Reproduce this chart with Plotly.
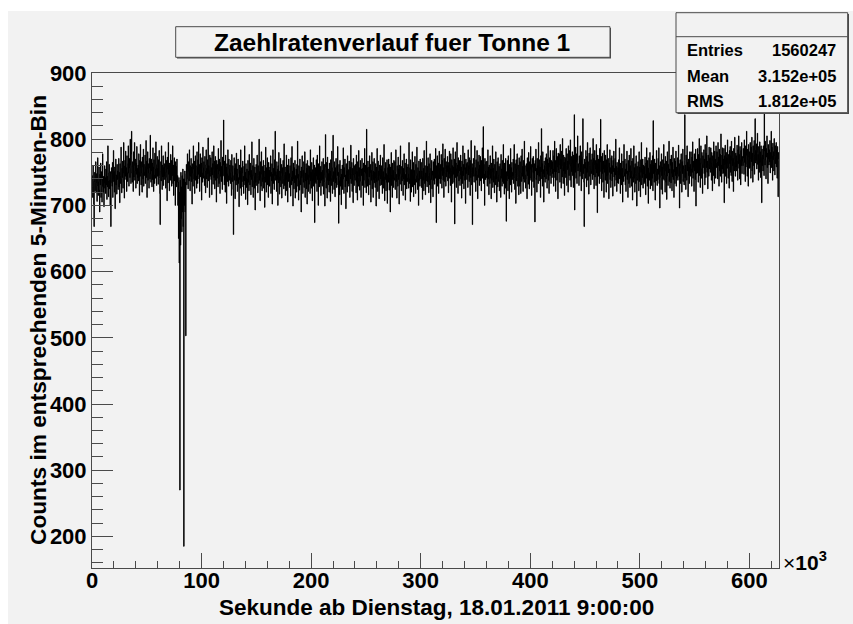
import plotly.graph_objects as go

# ---------------------------------------------------------------------------
# Counts per 5-minute bin (300 s), 20 bins = 6 ks per row
# ---------------------------------------------------------------------------
BIN_WIDTH_S = 300
X_MAX_KS = 627
Y_RANGE = [152.3, 900]

COUNTS = [
    # 0 - 30 ks
    745, 728, 712, 760, 738, 702, 668, 735, 750, 722, 741, 766, 719, 733, 748, 706, 729, 772, 740, 715,
    736, 758, 724, 690, 747, 731, 764, 712, 739, 751, 705, 728, 778, 737, 720, 744, 698, 733, 760, 726,
    742, 718, 755, 731, 766, 709, 744, 728, 790, 737, 713, 749, 762, 725, 738, 700, 751, 668, 734, 757,
    748, 729, 765, 712, 740, 783, 736, 751, 720, 758, 695, 744, 770, 731, 746, 717, 762, 739, 752, 724,
    739, 771, 728, 750, 704, 763, 745, 733, 788, 741, 719, 756, 742, 767, 726, 748, 795, 735, 711, 760,
    # 30 - 60 ks
    768, 744, 782, 739, 757, 721, 775, 750, 736, 763, 790, 748, 729, 771, 756, 742, 800, 760, 733, 777,
    812, 749, 735, 766, 758, 721, 781, 743, 760, 795, 738, 752, 770, 726, 764, 747, 789, 733, 756, 742,
    761, 737, 778, 750, 715, 768, 744, 792, 757, 731, 766, 749, 720, 773, 758, 740, 785, 729, 762, 751,
    745, 776, 733, 759, 798, 742, 767, 712, 754, 781, 738, 763, 749, 726, 771, 756, 740, 806, 747, 735,
    770, 752, 728, 764, 739, 787, 758, 721, 769, 746, 733, 779, 755, 741, 796, 762, 730, 757, 774, 744,
    # 60 - 90 ks (drop of the rate around 80 ks)
    756, 732, 769, 745, 783, 741, 718, 671, 752, 766, 737, 790, 748, 724, 761, 743, 775, 730, 757, 744,
    763, 739, 758, 781, 726, 750, 768, 742, 707, 773, 755, 734, 795, 747, 760, 722, 764, 751, 738, 777,
    742, 768, 729, 756, 745, 790, 733, 761, 715, 748, 772, 737, 754, 700, 766, 741, 759, 728, 770, 735,
    745, 700, 735, 650, 742, 613, 720, 270, 738, 640, 750, 680, 728, 660, 745, 690, 755, 668, 740, 185,
    740, 700, 752, 690, 735, 503, 748, 762, 731, 755, 778, 740, 725, 766, 751, 737, 784, 745, 722, 760,
    # 90 - 120 ks
    744, 771, 736, 758, 702, 763, 748, 729, 790, 755, 740, 767, 718, 752, 775, 738, 760, 745, 726, 781,
    758, 733, 769, 747, 795, 740, 762, 721, 756, 778, 743, 750, 764, 708, 772, 749, 735, 788, 757, 741,
    766, 745, 730, 774, 752, 719, 761, 784, 740, 756, 727, 769, 748, 802, 737, 760, 753, 712, 776, 744,
    750, 772, 739, 757, 716, 781, 746, 763, 732, 755, 790, 742, 767, 725, 751, 774, 738, 760, 705, 768,
    741, 762, 755, 728, 786, 747, 733, 770, 752, 718, 765, 744, 798, 736, 759, 750, 724, 773, 745, 761,
    # 120 - 150 ks
    829, 744, 731, 767, 752, 720, 776, 741, 758, 703, 763, 748, 736, 784, 745, 729, 770, 755, 738, 761,
    749, 733, 768, 742, 715, 777, 751, 736, 760, 724, 656, 745, 772, 738, 756, 710, 763, 747, 731, 779,
    737, 755, 721, 748, 770, 733, 742, 698, 761, 739, 752, 726, 784, 741, 715, 757, 736, 749, 767, 728,
    744, 718, 759, 737, 790, 731, 750, 709, 763, 742, 727, 755, 740, 701, 768, 735, 752, 722, 777, 746,
    731, 764, 742, 716, 753, 739, 796, 728, 747, 760, 712, 738, 771, 744, 726, 758, 693, 749, 735, 762,
    # 150 - 180 ks
    755, 730, 776, 741, 719, 760, 745, 733, 800, 738, 751, 707, 766, 742, 729, 781, 747, 722, 759, 736,
    740, 768, 726, 752, 743, 697, 761, 735, 788, 749, 720, 757, 738, 772, 731, 746, 712, 765, 744, 753,
    729, 758, 744, 775, 718, 750, 737, 763, 702, 748, 784, 733, 756, 741, 724, 769, 745, 812, 738, 751,
    746, 721, 766, 739, 755, 700, 760, 734, 780, 743, 717, 752, 738, 771, 728, 749, 762, 711, 744, 757,
    733, 768, 741, 725, 793, 747, 730, 758, 715, 750, 739, 776, 722, 745, 761, 705, 753, 736, 770, 742,
    # 180 - 210 ks
    748, 727, 760, 738, 714, 772, 743, 731, 789, 737, 752, 699, 764, 740, 725, 757, 734, 768, 711, 745,
    736, 755, 720, 762, 741, 797, 729, 747, 708, 760, 738, 723, 770, 744, 731, 752, 690, 758, 742, 775,
    744, 718, 753, 735, 766, 727, 740, 781, 712, 749, 737, 763, 725, 756, 702, 768, 739, 746, 721, 760,
    732, 759, 742, 718, 784, 737, 750, 726, 765, 741, 707, 754, 738, 772, 729, 745, 761, 674, 748, 735,
    757, 733, 769, 744, 721, 776, 739, 752, 700, 763, 741, 728, 790, 746, 734, 759, 715, 750, 738, 766,
    # 210 - 240 ks
    729, 753, 740, 771, 717, 746, 762, 735, 699, 758, 807, 742, 726, 765, 750, 711, 773, 738, 755, 731,
    748, 720, 764, 737, 752, 706, 769, 741, 730, 782, 745, 718, 757, 806, 736, 751, 724, 766, 740, 713,
    757, 734, 771, 742, 727, 760, 745, 789, 731, 750, 673, 762, 738, 716, 768, 743, 729, 755, 701, 747,
    736, 761, 724, 750, 787, 739, 718, 757, 743, 770, 728, 746, 695, 763, 737, 752, 720, 775, 741, 733,
    754, 729, 767, 745, 712, 758, 740, 791, 733, 748, 765, 721, 756, 738, 704, 771, 746, 730, 760, 742,
    # 240 - 270 ks
    738, 762, 747, 719, 776, 735, 751, 708, 766, 741, 729, 783, 744, 757, 723, 749, 768, 736, 712, 755,
    745, 771, 730, 756, 742, 700, 764, 738, 750, 786, 727, 748, 761, 733, 719, 815, 744, 757, 729, 767,
    740, 716, 758, 743, 775, 731, 749, 762, 705, 753, 738, 780, 725, 746, 766, 712, 752, 739, 771, 734,
    750, 727, 763, 741, 699, 758, 736, 786, 744, 721, 767, 738, 752, 710, 761, 745, 730, 776, 740, 755,
    731, 760, 744, 718, 772, 737, 751, 726, 792, 743, 707, 756, 739, 765, 722, 748, 735, 769, 703, 746,
    # 270 - 300 ks
    757, 735, 770, 741, 723, 762, 749, 690, 758, 737, 780, 730, 745, 712, 764, 740, 753, 727, 768, 742,
    738, 766, 724, 751, 784, 736, 747, 711, 760, 742, 729, 773, 739, 755, 702, 761, 744, 732, 790, 748,
    745, 722, 759, 737, 768, 743, 715, 756, 740, 778, 731, 750, 764, 708, 747, 736, 770, 725, 758, 742,
    736, 762, 748, 726, 795, 741, 733, 757, 706, 769, 745, 720, 754, 739, 781, 728, 750, 765, 713, 744,
    753, 731, 774, 740, 718, 762, 745, 735, 788, 748, 724, 757, 741, 700, 767, 738, 752, 729, 770, 743,
    # 300 - 330 ks
    740, 765, 727, 752, 743, 709, 771, 738, 756, 722, 783, 746, 733, 760, 716, 749, 737, 797, 742, 728,
    759, 736, 772, 745, 719, 763, 750, 731, 778, 741, 704, 756, 739, 768, 725, 752, 745, 713, 766, 738,
    745, 770, 732, 757, 741, 786, 748, 674, 760, 737, 775, 729, 751, 764, 718, 746, 782, 740, 755, 733,
    762, 740, 777, 751, 726, 768, 745, 793, 738, 757, 712, 771, 749, 736, 785, 754, 729, 766, 743, 760,
    751, 774, 737, 760, 719, 765, 748, 782, 741, 756, 730, 778, 752, 705, 769, 744, 760, 733, 787, 747,
    # 330 - 360 ks
    758, 735, 770, 672, 753, 781, 742, 764, 727, 756, 795, 744, 761, 718, 772, 749, 737, 768, 752, 730,
    746, 776, 740, 758, 711, 767, 752, 733, 790, 745, 762, 725, 754, 779, 738, 757, 703, 770, 748, 763,
    739, 765, 751, 727, 784, 746, 760, 736, 772, 755, 715, 768, 742, 798, 750, 731, 763, 671, 757, 744,
    771, 748, 735, 762, 790, 744, 757, 721, 769, 752, 738, 783, 746, 710, 766, 755, 742, 776, 730, 761,
    750, 774, 737, 759, 722, 768, 745, 787, 741, 756, 819, 733, 762, 748, 700, 771, 752, 739, 766, 744,
    # 360 - 390 ks
    742, 767, 729, 753, 784, 740, 758, 716, 761, 746, 733, 775, 741, 755, 710, 764, 738, 750, 790, 727,
    756, 735, 770, 744, 719, 762, 748, 731, 781, 740, 752, 705, 766, 743, 728, 772, 747, 736, 759, 722,
    738, 763, 745, 712, 777, 741, 755, 729, 768, 736, 749, 792, 733, 757, 717, 764, 743, 726, 771, 748,
    676, 751, 737, 768, 744, 722, 775, 740, 753, 710, 762, 746, 731, 786, 743, 757, 720, 765, 739, 750,
    745, 770, 733, 756, 792, 741, 724, 763, 748, 703, 769, 737, 755, 778, 742, 729, 761, 746, 716, 772,
    # 390 - 420 ks
    752, 729, 766, 743, 718, 775, 749, 736, 785, 744, 759, 721, 768, 740, 753, 797, 735, 760, 747, 726,
    740, 763, 751, 710, 772, 745, 758, 732, 780, 747, 725, 766, 741, 754, 789, 738, 762, 715, 750, 771,
    757, 736, 774, 748, 727, 763, 741, 675, 768, 752, 785, 739, 756, 720, 771, 746, 760, 733, 795, 749,
    744, 769, 737, 758, 712, 775, 751, 816, 740, 763, 729, 781, 748, 754, 705, 767, 743, 760, 735, 772,
    761, 740, 778, 752, 726, 770, 747, 790, 738, 764, 718, 757, 772, 745, 783, 750, 733, 768, 755, 742,
    # 420 - 450 ks
    766, 748, 783, 755, 729, 775, 751, 797, 742, 768, 721, 762, 786, 750, 738, 774, 758, 710, 779, 753,
    749, 778, 761, 735, 792, 755, 770, 726, 782, 757, 743, 801, 760, 733, 776, 752, 765, 715, 773, 748,
    771, 742, 786, 760, 730, 778, 754, 767, 720, 790, 756, 745, 783, 762, 738, 799, 759, 728, 774, 751,
    764, 781, 745, 770, 727, 776, 758, 837, 693, 772, 750, 788, 741, 765, 778, 733, 768, 805, 752, 763,
    757, 730, 775, 762, 744, 790, 751, 768, 722, 781, 759, 740, 773, 831, 748, 762, 735, 668, 770, 756,
    # 450 - 480 ks
    765, 741, 783, 757, 728, 774, 750, 795, 738, 766, 752, 717, 779, 760, 744, 787, 755, 731, 769, 748,
    752, 778, 739, 765, 801, 746, 771, 725, 760, 783, 743, 768, 755, 730, 792, 749, 763, 689, 776, 758,
    744, 770, 757, 733, 786, 751, 765, 830, 740, 774, 722, 760, 748, 779, 735, 767, 755, 712, 783, 750,
    761, 738, 776, 752, 720, 769, 745, 792, 733, 758, 771, 746, 710, 764, 750, 784, 739, 757, 727, 772,
    748, 775, 737, 760, 714, 768, 751, 782, 743, 756, 729, 771, 746, 800, 738, 759, 721, 765, 752, 734,
    # 480 - 510 ks
    757, 733, 769, 746, 787, 740, 755, 718, 764, 749, 731, 778, 742, 756, 705, 767, 745, 736, 792, 750,
    744, 770, 731, 755, 721, 763, 748, 782, 739, 752, 712, 768, 745, 733, 776, 750, 727, 760, 741, 786,
    752, 729, 767, 743, 708, 771, 747, 735, 790, 741, 757, 720, 763, 748, 733, 775, 744, 699, 759, 738,
    740, 766, 749, 722, 781, 736, 758, 745, 713, 769, 750, 795, 731, 755, 742, 770, 726, 761, 747, 733,
    759, 735, 773, 748, 716, 764, 741, 787, 752, 729, 768, 744, 703, 757, 772, 738, 750, 780, 725, 762,
    # 510 - 540 ks
    743, 768, 730, 756, 741, 775, 722, 828, 748, 761, 735, 770, 745, 708, 764, 751, 737, 783, 746, 730,
    755, 739, 771, 747, 787, 733, 760, 696, 751, 766, 742, 724, 778, 745, 758, 717, 769, 740, 754, 792,
    738, 763, 746, 720, 774, 752, 735, 767, 709, 757, 781, 744, 730, 762, 749, 797, 736, 755, 726, 770,
    760, 734, 776, 748, 722, 765, 743, 788, 739, 754, 712, 771, 750, 733, 767, 745, 782, 729, 758, 741,
    747, 772, 738, 759, 791, 744, 763, 696, 756, 769, 733, 751, 778, 740, 720, 766, 748, 785, 736, 760,
    # 540 - 570 ks
    755, 731, 768, 837, 742, 761, 724, 776, 749, 738, 790, 752, 765, 713, 770, 745, 758, 733, 781, 750,
    762, 744, 781, 755, 729, 773, 750, 796, 741, 767, 757, 721, 778, 752, 766, 739, 785, 699, 770, 748,
    768, 749, 786, 760, 735, 777, 754, 801, 745, 771, 727, 764, 790, 756, 741, 780, 762, 718, 775, 757,
    759, 784, 748, 770, 731, 792, 763, 742, 779, 757, 805, 750, 767, 725, 776, 761, 744, 788, 755, 770,
    772, 750, 787, 764, 738, 780, 758, 722, 775, 768, 745, 796, 761, 733, 782, 756, 770, 741, 790, 764,
    # 570 - 600 ks
    757, 781, 766, 740, 795, 760, 773, 729, 785, 752, 769, 744, 778, 808, 761, 735, 776, 755, 787, 748,
    770, 749, 786, 704, 775, 762, 791, 744, 768, 780, 733, 772, 756, 799, 764, 741, 777, 758, 726, 783,
    763, 789, 750, 775, 745, 797, 768, 736, 782, 760, 771, 721, 786, 765, 752, 803, 770, 744, 779, 758,
    775, 752, 791, 768, 738, 784, 763, 805, 756, 777, 740, 789, 769, 731, 783, 760, 795, 748, 774, 766,
    760, 786, 771, 747, 799, 765, 780, 736, 790, 758, 775, 812, 762, 744, 785, 769, 729, 792, 773, 756,
    # 600 - 627 ks
    781, 757, 795, 770, 741, 788, 766, 803, 752, 779, 735, 790, 772, 760, 798, 747, 776, 831, 764, 783,
    768, 793, 755, 780, 809, 762, 777, 738, 789, 771, 750, 796, 765, 781, 742, 790, 773, 704, 785, 760,
    776, 752, 790, 770, 745, 880, 782, 761, 797, 768, 740, 786, 773, 805, 757, 779, 733, 792, 770, 761,
    784, 766, 798, 749, 780, 771, 812, 757, 788, 775, 738, 794, 769, 781, 752, 801, 774, 746, 790, 763,
    772, 795, 758, 784, 741, 789, 767, 713, 780, 770,
]

TITLE = "Zaehlratenverlauf fuer Tonne 1"
X_TITLE = "Sekunde ab Dienstag, 18.01.2011 9:00:00"
Y_TITLE = "Counts im entsprechenden 5-Minuten-Bin"
STAT_LABELS = ["Entries", "Mean", "RMS"]
STAT_VALUES = ["1560247", "3.152e+05", "1.812e+05"]

# ---------------------------------------------------------------------------
# Canvas geometry (pixels) and helpers to place decorations in paper space
# ---------------------------------------------------------------------------
W, H = 853, 624
ML, MR, MT, MB = 92, 74, 73, 56
PW, PH = W - ML - MR, H - MT - MB


def fx(px):
    return (px - ML) / PW


def fy(py):
    return (H - MB - py) / PH


FONT = "Liberation Sans, Arial, Helvetica, sans-serif"
CANVAS = "#f2f2f2"
FRAME = "#4a4a4a"

# Step outline of the histogram: left bin edges (in ks) plus the closing edge
edges = [i * BIN_WIDTH_S / 1000 for i in range(len(COUNTS) + 1)]
step_y = COUNTS + [COUNTS[-1]]

fig = go.Figure(
    go.Scatter(
        x=edges,
        y=step_y,
        mode="lines",
        line=dict(color="black", width=1, shape="hv"),
        hoverinfo="skip",
        showlegend=False,
    )
)

axis_common = dict(
    showline=True,
    mirror=True,
    linecolor=FRAME,
    linewidth=1,
    showgrid=False,
    zeroline=False,
    ticks="inside",
    tickcolor=FRAME,
    tickwidth=1,
    tickfont=dict(family=FONT, size=22, color="black", weight="bold"),
)

fig.update_xaxes(
    **axis_common,
    range=[0, X_MAX_KS],
    dtick=100,
    tick0=0,
    ticklen=15,
    ticklabelstandoff=-7,
    minor=dict(dtick=20, tick0=0, ticks="inside", ticklen=7, tickcolor=FRAME, tickwidth=1),
)
fig.update_yaxes(
    **axis_common,
    range=Y_RANGE,
    dtick=100,
    tick0=0,
    ticklen=21,
    minor=dict(dtick=20, tick0=0, ticks="inside", ticklen=11, tickcolor=FRAME, tickwidth=1),
)

shapes = [
    # grey canvas
    dict(type="rect", xref="paper", yref="paper", layer="below",
         x0=fx(8), x1=fx(W + 2), y0=fy(11), y1=fy(H + 2),
         fillcolor=CANVAS, line=dict(width=0)),
    # title box with shadow
    dict(type="rect", xref="paper", yref="paper",
         x0=fx(177), x1=fx(611), y0=fy(28), y1=fy(58.5),
         fillcolor=FRAME, line=dict(width=0)),
    dict(type="rect", xref="paper", yref="paper",
         x0=fx(175.7), x1=fx(610), y0=fy(26.7), y1=fy(57.3),
         fillcolor=CANVAS, line=dict(color=FRAME, width=1)),
    # statistics box with shadow
    dict(type="rect", xref="paper", yref="paper",
         x0=fx(677.5), x1=fx(849), y0=fy(14), y1=fy(114),
         fillcolor=FRAME, line=dict(width=0)),
    dict(type="rect", xref="paper", yref="paper",
         x0=fx(676), x1=fx(847.7), y0=fy(12.7), y1=fy(112.7),
         fillcolor=CANVAS, line=dict(color=FRAME, width=1)),
    dict(type="line", xref="paper", yref="paper",
         x0=fx(676), x1=fx(847.7), y0=fy(36.7), y1=fy(36.7),
         line=dict(color=FRAME, width=1)),
]

annotations = [
    dict(text=TITLE, x=fx(392), y=fy(42.5), xref="paper", yref="paper",
         xanchor="center", yanchor="middle", showarrow=False,
         font=dict(family=FONT, size=24.5, color="black", weight="bold")),
    dict(text=X_TITLE, x=fx(436.7), y=fy(607.5), xref="paper", yref="paper",
         xanchor="center", yanchor="middle", showarrow=False,
         font=dict(family=FONT, size=22.5, color="black", weight="bold")),
    dict(text=Y_TITLE, x=fx(38), y=fy(320), xref="paper", yref="paper",
         xanchor="center", yanchor="middle", textangle=-90, showarrow=False,
         font=dict(family=FONT, size=22.7, color="black", weight="bold")),
    dict(text="<span style='font-weight:normal'>×</span>10<sup>3</sup>",
         x=fx(781), y=fy(561), xref="paper", yref="paper",
         xanchor="left", yanchor="middle", showarrow=False,
         font=dict(family=FONT, size=21, color="black", weight="bold")),
]

stat_rows_y = [50.2, 76.2, 100.8]
for label, value, py in zip(STAT_LABELS, STAT_VALUES, stat_rows_y):
    annotations.append(dict(text=label, x=fx(685), y=fy(py), xref="paper", yref="paper",
                            xanchor="left", yanchor="middle", showarrow=False,
                            font=dict(family=FONT, size=16.5, color="black", weight="bold")))
    annotations.append(dict(text=value, x=fx(838), y=fy(py), xref="paper", yref="paper",
                            xanchor="right", yanchor="middle", showarrow=False,
                            font=dict(family=FONT, size=16.5, color="black", weight="bold")))

fig.update_layout(
    width=W,
    height=H,
    margin=dict(l=ML, r=MR, t=MT, b=MB, pad=0),
    paper_bgcolor="white",
    plot_bgcolor=CANVAS,
    shapes=shapes,
    annotations=annotations,
    showlegend=False,
)

fig.write_html("out.html", config={"displayModeBar": False})
